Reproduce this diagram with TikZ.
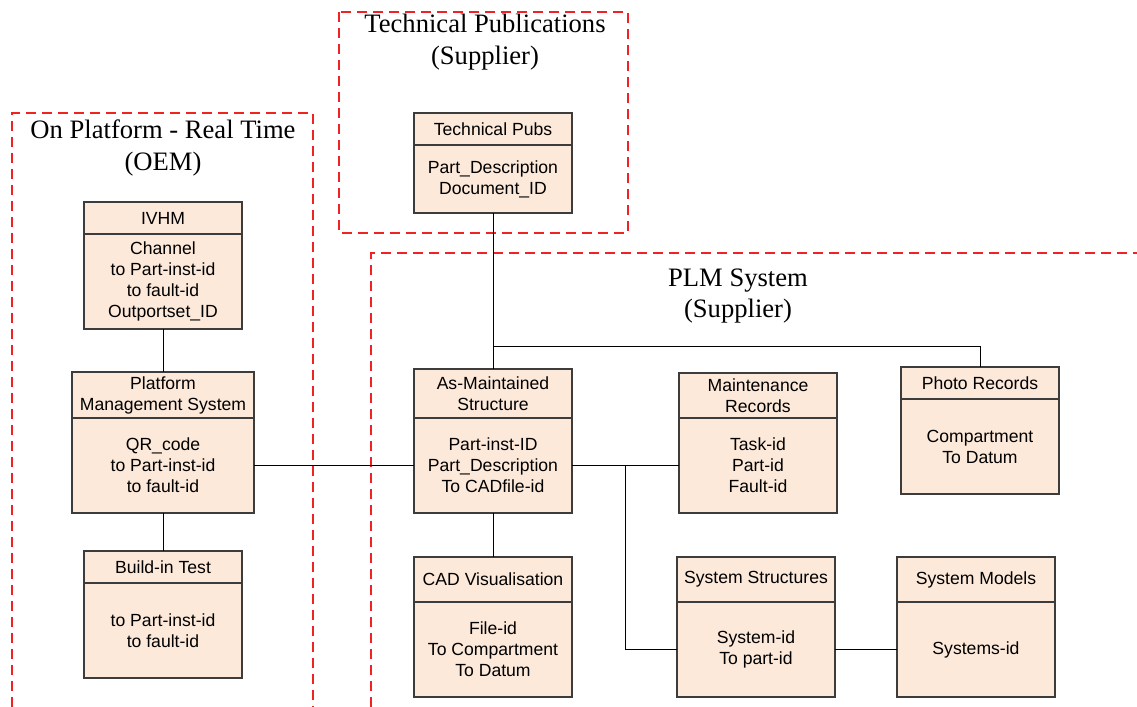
\documentclass[tikz,border=0pt]{standalone}
\usepackage{fontspec}
\setmainfont{Liberation Serif}
\setsansfont{Liberation Sans}
\usetikzlibrary{positioning}
\definecolor{boxfill}{RGB}{252,233,218}
\definecolor{boxline}{RGB}{60,60,60}
\definecolor{zonered}{RGB}{240,35,35}

\begin{document}
\begin{tikzpicture}[x=0.5pt, y=-0.5pt,
  every node/.style={inner sep=0pt, outer sep=0pt},
  hdr/.style={draw=boxline, line width=0.75pt, fill=boxfill, align=center,
              font=\sffamily\fontsize{8.8}{10.5}\selectfont,
              minimum width=79pt, minimum height=16pt, anchor=north},
  bdy/.style={hdr, minimum height=47.5pt},
  title/.style={align=center, font=\fontsize{13.3}{15.9}\selectfont},
  zone/.style={draw=zonered, line width=1pt, dash pattern=on 5pt off 3pt},
  link/.style={draw=black, line width=0.5pt}]
\useasboundingbox (0,0) rectangle (1137,707);

% dashed zones
\draw[zone] (12,707) |- (313,113) -- (313,707);
\draw[zone] (339,12) rectangle (628,233);
\draw[zone] (371,707) |- (1137,253);

\node[title] (oemtitle) at (163,148) {On Platform - Real Time\\(OEM)};
\node[title] (pubstitle) at (485,42) {Technical Publications\\(Supplier)};
\node[title] (plmtitle) at (738,296) {PLM System\\(Supplier)};

% on platform
\node[hdr] (ivhm) at (163,202) {IVHM};
\node[bdy, below=0pt of ivhm] (ivhm-b)
  {Channel\\to Part-inst-id\\to fault-id\\Outportset\_ID};
\node[hdr, minimum width=91pt, minimum height=23pt] (pms) at (163,372)
  {Platform\\Management System};
\node[bdy, minimum width=91pt, below=0pt of pms] (pms-b)
  {QR\_code\\to Part-inst-id\\to fault-id};
\node[hdr] (bit) at (163,551) {Build-in Test};
\node[bdy, below=0pt of bit] (bit-b) {to Part-inst-id\\to fault-id};

% technical publications
\node[hdr] (pubs) at (493,113) {Technical Pubs};
\node[bdy, minimum height=34pt, below=0pt of pubs] (pubs-b)
  {Part\_Description\\Document\_ID};

% PLM system
\node[hdr, minimum height=24.5pt] (amaint) at (493,369) {As-Maintained\\Structure};
\node[bdy, below=0pt of amaint] (amaint-b)
  {Part-inst-ID\\Part\_Description\\To CADfile-id};
\node[hdr, minimum height=22.5pt] (mrec) at (758,373) {Maintenance\\Records};
\node[bdy, below=0pt of mrec] (mrec-b) {Task-id\\Part-id\\Fault-id};
\node[hdr] (photo) at (980,367) {Photo Records};
\node[bdy, below=0pt of photo] (photo-b) {Compartment\\To Datum};
\node[hdr, minimum height=22.5pt] (cad) at (493,557) {CAD Visualisation};
\node[bdy, below=0pt of cad] (cad-b) {File-id\\To Compartment\\To Datum};
\node[hdr, minimum height=22.5pt] (sysstr) at (756,557) {System Structures};
\node[bdy, below=0pt of sysstr] (sysstr-b) {System-id\\To part-id};
\node[hdr, minimum height=22.5pt] (sysmod) at (976,557) {System Models};
\node[bdy, below=0pt of sysmod] (sysmod-b) {Systems-id};

% connectors
\coordinate (jtop) at (493,346);
\coordinate (jmid) at (625,465.5);
\draw[link] (ivhm-b.south) -- (pms.north);
\draw[link] (pms-b.south) -- (bit.north);
\draw[link] (pms-b.east) -- (amaint-b.west);
\draw[link] (pubs-b.south) -- (amaint.north);
\draw[link] (jtop) -| (photo.north);
\draw[link] (amaint-b.east) -- (mrec-b.west);
\draw[link] (amaint-b.south) -- (cad.north);
\draw[link] (jmid) |- (sysstr-b.west);
\draw[link] (sysstr-b.east) -- (sysmod-b.west);
\end{tikzpicture}
\end{document}
